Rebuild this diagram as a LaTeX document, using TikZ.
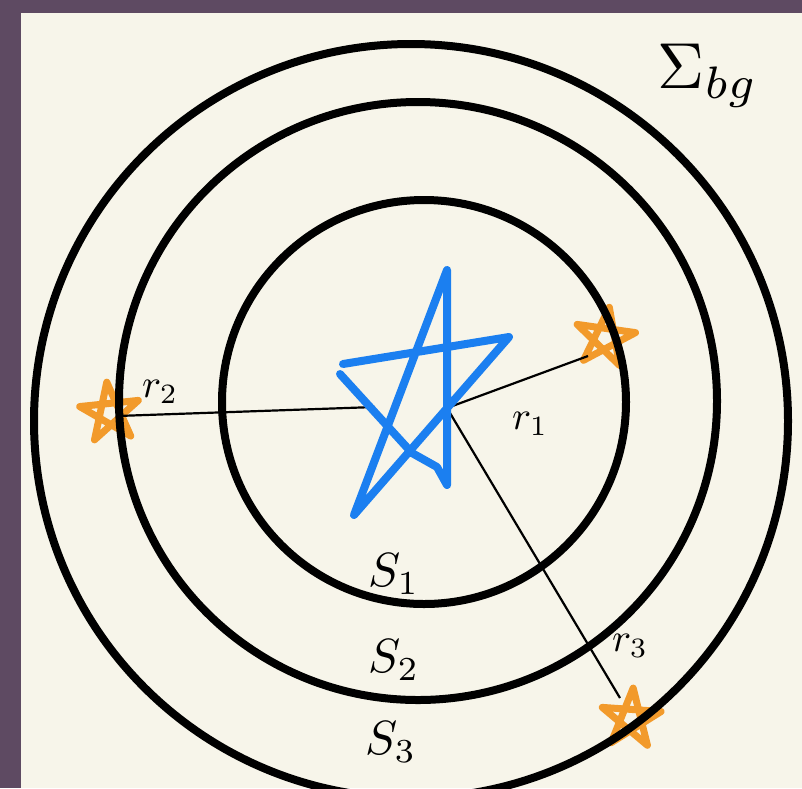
\documentclass[tikz,border=0pt]{standalone}
\usetikzlibrary{positioning}
\definecolor{frame}{RGB}{94,74,98}
\definecolor{paper}{RGB}{247,245,234}
\definecolor{starblue}{RGB}{27,127,240}
\definecolor{starorange}{RGB}{242,154,43}
\tikzset{
  ring/.style={line width=8pt},
  radline/.style={line width=2.2pt},
  lbl/.style={inner sep=0pt, scale=4.8},
  small lbl/.style={inner sep=0pt, scale=4},
  ostar/.pic={
    \draw[starorange, line width=7pt, line join=round, line cap=round]
      (-90:31) -- (54:31) -- (198:31) -- (-18:31) -- (126:31) -- cycle;
  }
}

\begin{document}
\begin{tikzpicture}[x=1pt,y=-1pt]
        %Background
        \useasboundingbox (0,0) rectangle (802,788);
        \clip (0,0) rectangle (802,788);
        \fill[frame] (0,0) rectangle (802,788);
        \fill[paper] (21,13) rectangle (802,788);
        %Points
        \coordinate (core) at (447,408);
        \coordinate (corel) at (375,407);
        \coordinate (tip1) at (588,356);
        \coordinate (tip2) at (117,416);
        \coordinate (tip3) at (620,698);
        %Orange stars
        \pic[rotate=-8] at (605,338) {ostar};
        \pic[rotate=6] at (110,413) {ostar};
        \pic[rotate=-4] at (631,719) {ostar};
        %Rings
        \draw[ring] (411,421) circle (377);
        \draw[ring] (418,401) circle (299);
        \draw[ring] (424,402) circle (202);
        %Radii
        \draw[radline] (core) -- (tip1);
        \draw[radline] (corel) -- (tip2);
        \draw[radline] (core) -- (tip3);
        %Blue star
        \draw[starblue, line width=8pt, line join=round, line cap=round]
          (343,364) -- (509,337) -- (354,515) -- (447,270) -- (447,485)
          -- (437,467) -- (412,453) -- (340,374);
        %Labels
        \node[small lbl] (lr2) at (160,392) {$r_2$};
        \node[small lbl] (lr1) at (530,424) {$r_1$};
        \node[small lbl] (lr3) at (630,646) {$r_3$};
        \node[lbl] (ls1) at (394,574) {$S_1$};
        \node[lbl] (ls2) at (394,660) {$S_2$};
        \node[lbl] (ls3) at (391,742) {$S_3$};
        \node[inner sep=0pt, scale=6.5] (lbg) at (708,76) {$\Sigma_{bg}$};
\end{tikzpicture}
\end{document}
